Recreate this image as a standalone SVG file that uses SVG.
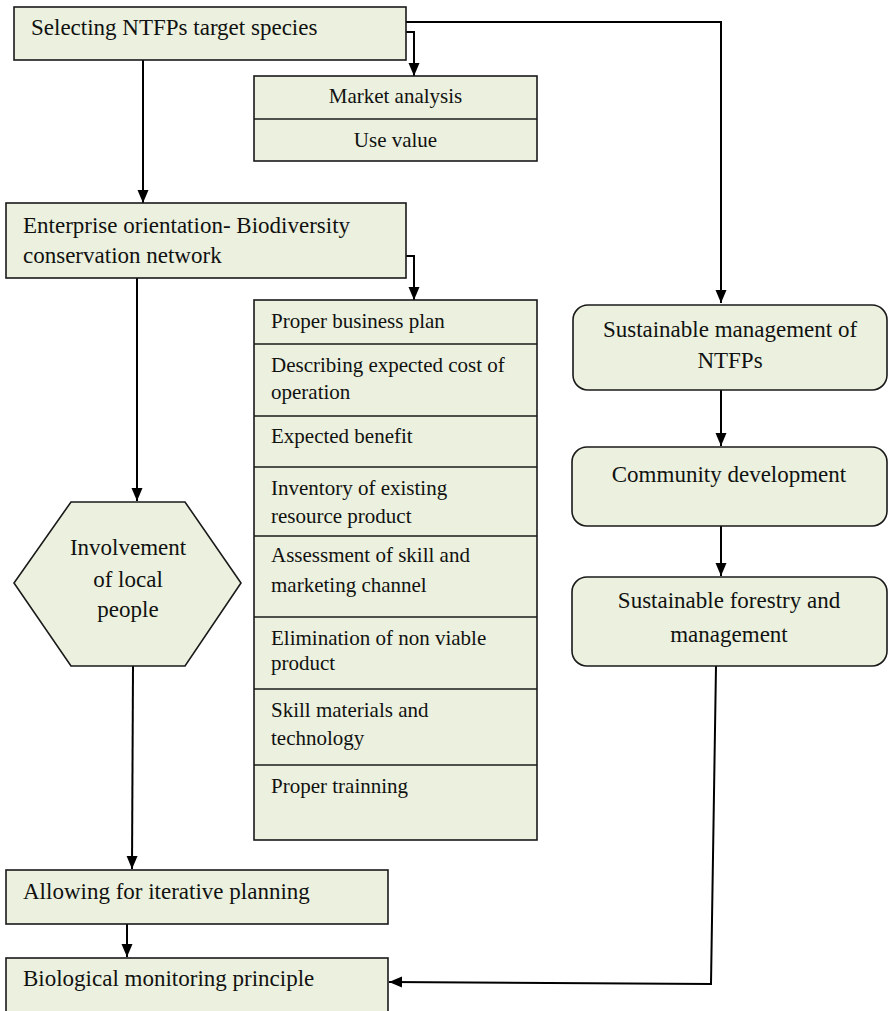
<svg xmlns="http://www.w3.org/2000/svg" width="889" height="1011" viewBox="0 0 889 1011">
<style>
.box{fill:#ebf1de;stroke:#1a1a1a;stroke-width:1.6}
.t{font-family:"Liberation Serif","Times New Roman",serif;font-size:23px;fill:#111}
.s{font-family:"Liberation Serif","Times New Roman",serif;font-size:21px;fill:#111}
.c{text-anchor:middle}
.ln{fill:none;stroke:#000;stroke-width:2}
</style>
<defs>
<marker id="ah" markerUnits="userSpaceOnUse" markerWidth="14" markerHeight="14" viewBox="0 0 14 14" refX="13" refY="7" orient="auto">
<path d="M0,1.5 L13,7 L0,12.5 Z" fill="#000"/>
</marker>
</defs>
<rect width="889" height="1011" fill="#fff"/>
<g id="connectors">
<path class="ln" d="M406,22 H721 V303" marker-end="url(#ah)"/>
<path class="ln" d="M406,32 H414 V76" marker-end="url(#ah)"/>
<path class="ln" d="M143,60 V203" marker-end="url(#ah)"/>
<path class="ln" d="M406,256 H414 V300" marker-end="url(#ah)"/>
<path class="ln" d="M137,278 V501" marker-end="url(#ah)"/>
<path class="ln" d="M133,666 L132,869" marker-end="url(#ah)"/>
<path class="ln" d="M127,924 V957" marker-end="url(#ah)"/>
<path class="ln" d="M721,390 V446" marker-end="url(#ah)"/>
<path class="ln" d="M721,526 V576" marker-end="url(#ah)"/>
<path class="ln" d="M716,666 L711,984 L389,982" marker-end="url(#ah)"/>
</g>
<g id="n-select">
<rect class="box" x="14" y="7" width="392" height="53"/>
<text class="t" x="31" y="35">Selecting NTFPs target species</text>
</g>
<g id="n-market">
<rect class="box" x="254" y="76" width="283" height="85"/>
<line x1="254" y1="119" x2="537" y2="119" stroke="#1a1a1a" stroke-width="1.6"/>
<text class="s c" x="395.5" y="103">Market analysis</text>
<text class="s c" x="395.5" y="147">Use value</text>
</g>
<g id="n-enterprise">
<rect class="box" x="6" y="203" width="400" height="75"/>
<text class="t" x="23" y="233">Enterprise orientation- Biodiversity</text>
<text class="t" x="23" y="263">conservation network</text>
</g>
<g id="n-list">
<rect class="box" x="254" y="300" width="283" height="540"/>
<g stroke="#1a1a1a" stroke-width="1.6">
<line x1="254" y1="344" x2="537" y2="344"/>
<line x1="254" y1="416" x2="537" y2="416"/>
<line x1="254" y1="467" x2="537" y2="467"/>
<line x1="254" y1="536" x2="537" y2="536"/>
<line x1="254" y1="617" x2="537" y2="617"/>
<line x1="254" y1="689" x2="537" y2="689"/>
<line x1="254" y1="765" x2="537" y2="765"/>
</g>
<text class="s" x="271" y="328">Proper business plan</text>
<text class="s" x="271" y="372">Describing expected cost of</text>
<text class="s" x="271" y="399">operation</text>
<text class="s" x="271" y="443">Expected benefit</text>
<text class="s" x="271" y="495">Inventory of existing</text>
<text class="s" x="271" y="523">resource product</text>
<text class="s" x="271" y="562">Assessment of skill and</text>
<text class="s" x="271" y="592">marketing channel</text>
<text class="s" x="271" y="645">Elimination of non viable</text>
<text class="s" x="271" y="670">product</text>
<text class="s" x="271" y="717">Skill materials and</text>
<text class="s" x="271" y="745">technology</text>
<text class="s" x="271" y="793">Proper trainning</text>
</g>
<g id="n-involvement">
<polygon class="box" points="71,502 185,502 241,583 185,666 71,666 14,583"/>
<text class="t c" x="128" y="555">Involvement</text>
<text class="t c" x="128" y="587">of local</text>
<text class="t c" x="128" y="617">people</text>
</g>
<g id="n-allowing">
<rect class="box" x="6" y="870" width="382" height="54"/>
<text class="t" x="23" y="899">Allowing for iterative planning</text>
</g>
<g id="n-biological">
<rect class="box" x="6" y="958" width="382" height="60"/>
<text class="t" x="23" y="986">Biological monitoring principle</text>
</g>
<g id="n-sustmgmt">
<rect class="box" x="573" y="305" width="314" height="85" rx="15"/>
<text class="t c" x="730" y="337">Sustainable management of</text>
<text class="t c" x="730" y="368">NTFPs</text>
</g>
<g id="n-community">
<rect class="box" x="572" y="447" width="315" height="79" rx="15"/>
<text class="t c" x="729" y="482">Community development</text>
</g>
<g id="n-forestry">
<rect class="box" x="572" y="577" width="315" height="89" rx="15"/>
<text class="t c" x="729" y="608">Sustainable forestry and</text>
<text class="t c" x="729" y="642">management</text>
</g>
</svg>
